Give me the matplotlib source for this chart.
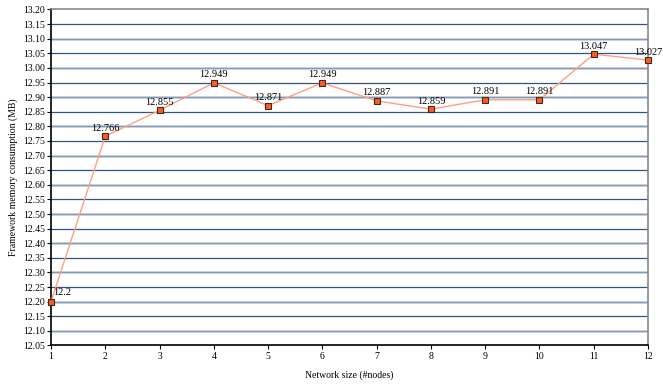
import matplotlib
matplotlib.use("Agg")
import matplotlib.pyplot as plt
import numpy as np

nodes = [1, 2, 3, 4, 5, 6, 7, 8, 9, 10, 11, 12]
memory = [12.2, 12.766, 12.855, 12.949, 12.871, 12.949, 12.887, 12.859, 12.891, 12.891, 13.047, 13.027]
labels = ["12.2", "12.766", "12.855", "12.949", "12.871", "12.949", "12.887", "12.859", "12.891", "12.891", "13.047", "13.027"]

plt.rcParams['font.family'] = ['Liberation Serif', 'DejaVu Serif']

fig = plt.figure(figsize=(6.63, 3.84), dpi=100)
ax = fig.add_axes([0.0769, 0.1003, 0.9005, 0.875])

# alternating grid: dark navy / pale blue-grey
yt = np.round(np.arange(12.05, 13.2001, 0.05), 2)
for i, y in enumerate(yt[1:-1], start=1):
    if i % 2 == 1:
        ax.axhline(y, color="#b4c4d6", lw=1.8, zorder=1)
        ax.axhline(y, color="#7b93b0", lw=0.6, zorder=1)
    else:
        ax.axhline(y, color="#2e5583", lw=0.9, zorder=1)

ax.plot(nodes, memory, color="#ff9f80", lw=1.0, zorder=3)
ax.plot(nodes, memory, ls="none", marker="s", ms=4.5, mfc="#ff5a1f", mec="#3a2a20", mew=0.8, zorder=4, clip_on=False)

for x, y, t in zip(nodes, memory, labels):
    if x == 1:
        ax.annotate(t, (x, y), xytext=(1.5, 3), textcoords="offset points", ha="left", va="bottom", fontsize=7.5)
    else:
        ax.annotate(t, (x, y), xytext=(0, 2.5), textcoords="offset points", ha="center", va="bottom", fontsize=7.5)

ax.set_xlim(1, 12)
ax.set_ylim(12.05, 13.2)
ax.set_xticks(nodes)
ax.set_yticks(yt)
ax.set_yticklabels(["%.2f" % v for v in yt])
ax.tick_params(labelsize=7, length=3, width=0.8, pad=1.5)
ax.spines["top"].set_color("#888888")
ax.spines["right"].set_color("#888888")
for s in ax.spines.values():
    s.set_linewidth(1.2)

ax.set_xlabel("Network size (#nodes)", fontsize=7)
ax.set_ylabel("Framework memory consumption (MB)", fontsize=7)
ax.xaxis.set_label_coords(0.5, -0.075)
ax.yaxis.set_label_coords(-0.056, 0.5)

fig.savefig("out.png", dpi=100)
